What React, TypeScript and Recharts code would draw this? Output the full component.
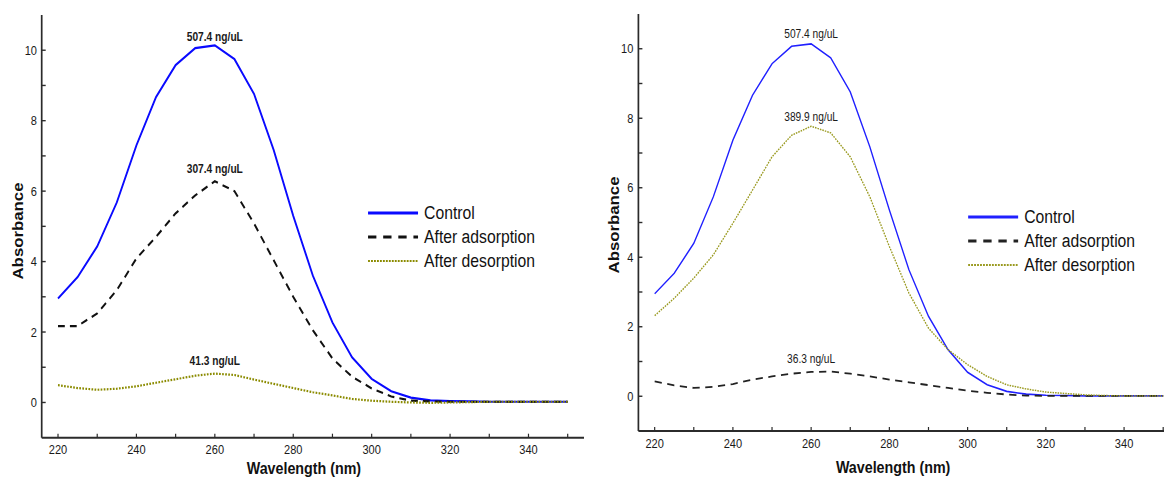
import React from 'react';
import { LineChart, Line, XAxis, YAxis, Legend, ReferenceDot } from 'recharts';

// ---------- data ----------
const wavelengths = [220, 225, 230, 235, 240, 245, 250, 255, 260, 265, 270, 275, 280, 285, 290, 295, 300, 305, 310, 315, 320, 325, 330, 335, 340, 345, 350];

const leftControl = [2.95, 3.56, 4.43, 5.68, 7.3, 8.67, 9.58, 10.06, 10.14, 9.75, 8.76, 7.17, 5.3, 3.6, 2.27, 1.28, 0.67, 0.32, 0.14, 0.06, 0.04, 0.03, 0.02, 0.02, 0.02, 0.02, 0.02];
const leftAdsorption = [2.17, 2.17, 2.53, 3.19, 4.09, 4.7, 5.37, 5.88, 6.28, 6.0, 5.08, 4.04, 3.0, 2.05, 1.25, 0.73, 0.4, 0.17, 0.05, 0.03, 0.02, 0.02, 0.02, 0.02, 0.02, 0.02, 0.02];
const leftDesorption = [0.49, 0.41, 0.36, 0.39, 0.46, 0.56, 0.66, 0.76, 0.82, 0.78, 0.65, 0.53, 0.41, 0.29, 0.2, 0.1, 0.05, 0.02, 0.0, -0.01, 0.0, 0.01, 0.02, 0.02, 0.02, 0.02, 0.02];

const rightControl = [2.95, 3.54, 4.4, 5.74, 7.37, 8.66, 9.57, 10.07, 10.14, 9.74, 8.76, 7.18, 5.36, 3.64, 2.3, 1.34, 0.69, 0.33, 0.14, 0.06, 0.03, 0.02, 0.01, 0.01, 0.01, 0.01, 0.01];
const rightAdsorption = [0.43, 0.31, 0.24, 0.27, 0.35, 0.48, 0.57, 0.65, 0.7, 0.71, 0.65, 0.57, 0.48, 0.4, 0.32, 0.24, 0.16, 0.1, 0.05, 0.02, 0.01, 0.01, 0.01, 0.01, 0.01, 0.01, 0.01];
const rightDesorption = [2.32, 2.82, 3.4, 4.07, 4.98, 5.93, 6.89, 7.51, 7.77, 7.58, 6.89, 5.74, 4.31, 2.97, 1.96, 1.34, 0.91, 0.57, 0.33, 0.21, 0.12, 0.08, 0.04, 0.02, 0.01, 0.01, 0.01];

const seriesNames = ['Control', 'After adsorption', 'After desorption'];

const xTicks = [220, 230, 240, 250, 260, 270, 280, 290, 300, 310, 320, 330, 340, 350];
const yTicks = [0, 1, 2, 3, 4, 5, 6, 7, 8, 9, 10];

const annoX = [260, 260, 260];
const leftAnnoText = ['507.4 ng/uL', '307.4 ng/uL', '41.3 ng/uL'];
const leftAnnoY = [10.37, 6.63, 1.19];
const rightAnnoText = ['507.4 ng/uL', '389.9 ng/uL', '36.3 ng/uL'];
const rightAnnoY = [10.42, 8.04, 1.08];

// ---------- layout / style ----------
const S = 0.85; // horizontal squeeze of the original figure
const FONT = '"Liberation Sans", Arial, Helvetica, sans-serif';
const X_DOMAIN: [number, number] = [215.84, 354.16];
const Y_DOMAIN: [number, number] = [-1, 11];

const leftRows = wavelengths.map((nm, i) => ({ nm, c: leftControl[i], a: leftAdsorption[i], d: leftDesorption[i] }));
const rightRows = wavelengths.map((nm, i) => ({ nm, c: rightControl[i], a: rightAdsorption[i], d: rightDesorption[i] }));

type SeriesStyle = { key: string; color: string; width: number; dash?: string; legendWidth: number; legendDash?: string };

const leftStyles: SeriesStyle[] = [
  { key: 'c', color: '#0a0aff', width: 2.2, legendWidth: 3 },
  { key: 'a', color: '#111111', width: 2.2, dash: '8 6', legendWidth: 3, legendDash: '9.8 8' },
  { key: 'd', color: '#8b8b00', width: 2.2, dash: '2 1.6', legendWidth: 2.2, legendDash: '2.2 1.3' },
];
const rightStyles: SeriesStyle[] = [
  { key: 'c', color: '#2020ff', width: 1.6, legendWidth: 3 },
  { key: 'a', color: '#222222', width: 1.8, dash: '8.5 6.5', legendWidth: 3, legendDash: '9.8 8' },
  { key: 'd', color: '#9a9a20', width: 1.5, dash: '1.8 1.2', legendWidth: 2.2, legendDash: '2.2 1.3' },
];

type PanelCfg = {
  width: number;
  marginTop: number;
  marginRight: number;
  yAxisWidth: number;
  xAxisHeight: number;
  xTickMargin: number;
  yTickMargin: number;
  xTitleDx: number;
  xTitleCy: number;
  yTitleX: number;
  yTitleCy: number;
  legendTop: number;
  legendLeft: number;
  annoBold: boolean;
};

const leftCfg: PanelCfg = {
  width: 700, marginTop: 15, marginRight: 12.94, yAxisWidth: 49.06, xAxisHeight: 39.3,
  xTickMargin: 10.65, yTickMargin: 10.3, xTitleDx: -10.5, xTitleCy: 468, yTitleX: 20.6, yTitleCy: 231,
  legendTop: 200.5, legendLeft: 432.9, annoBold: true,
};
const rightCfg: PanelCfg = {
  width: 700, marginTop: 14, marginRight: 18.4, yAxisWidth: 45.06, xAxisHeight: 46,
  xTickMargin: 12.05, yTickMargin: 10.6, xTitleDx: -18.6, xTitleCy: 467, yTitleX: 15.9, yTitleCy: 225,
  legendTop: 204.7, legendLeft: 432.9, annoBold: false,
};

function LegendBox({ styles }: { styles: SeriesStyle[] }) {
  return (
    <svg width={270} height={76} style={{ display: 'block', overflow: 'visible' }}>
      {seriesNames.map((name, i) => {
        const y = 12 + 24 * i;
        const st = styles[i];
        return (
          <g key={name}>
            <line x1={0} x2={58.8} y1={y} y2={y} stroke={st.color} strokeWidth={st.legendWidth} strokeDasharray={st.legendDash} />
            <text x={65.9} y={y} dominantBaseline="central" fontFamily={FONT} fontSize={18.5} fill="#111">
              {name}
            </text>
          </g>
        );
      })}
    </svg>
  );
}

function Panel({ data, cfg, styles, annoText, annoY }: { data: any[]; cfg: PanelCfg; styles: SeriesStyle[]; annoText: string[]; annoY: number[] }) {
  const xTitle = (p: any) => {
    const vb = (p && p.viewBox) || {};
    const cx = (vb.x ?? 0) + (vb.width ?? 0) / 2 + cfg.xTitleDx;
    return (
      <text x={cx} y={cfg.xTitleCy} textAnchor="middle" dominantBaseline="central" fontFamily={FONT} fontSize={16.8} fontWeight="bold" fill="#111">
        Wavelength (nm)
      </text>
    );
  };
  const yTitle = () => (
    <text
      x={cfg.yTitleX}
      y={cfg.yTitleCy}
      transform={`rotate(-90 ${cfg.yTitleX} ${cfg.yTitleCy})`}
      textAnchor="middle"
      dominantBaseline="central"
      fontFamily={FONT}
      fontSize={16.8}
      fontWeight="bold"
      fill="#111"
    >
      Absorbance
    </text>
  );
  const axisStroke = { stroke: '#2b2b2b', strokeWidth: 2 };
  const frameStroke = { stroke: '#4a4a4a', strokeWidth: 1.6 };
  const tickStyle = { fill: '#1a1a1a', fontSize: 13, fontFamily: FONT };
  return (
    <LineChart width={cfg.width} height={477} data={data} margin={{ top: cfg.marginTop, right: cfg.marginRight, bottom: 0, left: 0 }}>
      <XAxis
        dataKey="nm"
        type="number"
        domain={X_DOMAIN}
        allowDataOverflow
        ticks={xTicks}
        interval={0}
        tickFormatter={(v: number) => (v % 20 === 0 ? String(v) : '')}
        tickSize={-4}
        tickMargin={cfg.xTickMargin}
        height={cfg.xAxisHeight}
        axisLine={axisStroke}
        tickLine={{ stroke: '#2b2b2b', strokeWidth: 1.4 }}
        tick={tickStyle}
        label={xTitle}
      />
      <XAxis
        xAxisId="top"
        orientation="top"
        dataKey="nm"
        type="number"
        domain={X_DOMAIN}
        allowDataOverflow
        height={0}
        tick={false}
        tickLine={false}
        axisLine={frameStroke}
      />
      <YAxis
        type="number"
        domain={Y_DOMAIN}
        allowDataOverflow
        ticks={yTicks}
        interval={0}
        tickFormatter={(v: number) => (v % 2 === 0 ? String(v) : '')}
        tickSize={-4.7}
        tickMargin={cfg.yTickMargin}
        width={cfg.yAxisWidth}
        axisLine={axisStroke}
        tickLine={{ stroke: '#2b2b2b', strokeWidth: 1.4 }}
        tick={tickStyle}
        label={yTitle}
      />
      <YAxis
        yAxisId="r"
        orientation="right"
        type="number"
        domain={Y_DOMAIN}
        allowDataOverflow
        width={0}
        tick={false}
        tickLine={false}
        axisLine={frameStroke}
      />
      {styles.map((st, i) => (
        <Line
          key={st.key}
          dataKey={st.key}
          name={seriesNames[i]}
          type="linear"
          stroke={st.color}
          strokeWidth={st.width}
          strokeDasharray={st.dash}
          dot={false}
          activeDot={false}
          isAnimationActive={false}
        />
      ))}
      {annoText.map((t, i) => (
        <ReferenceDot
          key={t}
          x={annoX[i]}
          y={annoY[i]}
          r={0}
          fill="none"
          stroke="none"
          label={{ value: t, position: 'center', fontSize: 12, fontWeight: cfg.annoBold ? 'bold' : 'normal', fill: '#1a1a1a', fontFamily: FONT }}
        />
      ))}
      <Legend
        layout="vertical"
        align="center"
        verticalAlign="middle"
        wrapperStyle={{ left: cfg.legendLeft, top: cfg.legendTop, width: 270 }}
        content={() => <LegendBox styles={styles} />}
      />
    </LineChart>
  );
}

export default function App() {
  return (
    <div style={{ position: 'absolute', left: 0, top: 0, width: 1164, height: 477, overflow: 'hidden', background: '#fff' }}>
      <div style={{ position: 'absolute', left: 0, top: 0, width: 1164 / S, height: 477, transform: `scaleX(${S})`, transformOrigin: '0 0' }}>
        <div style={{ position: 'absolute', left: 0, top: 0 }}>
          <Panel data={leftRows} cfg={leftCfg} styles={leftStyles} annoText={leftAnnoText} annoY={leftAnnoY} />
        </div>
        <div style={{ position: 'absolute', left: 600 / S, top: 0 }}>
          <Panel data={rightRows} cfg={rightCfg} styles={rightStyles} annoText={rightAnnoText} annoY={rightAnnoY} />
        </div>
      </div>
    </div>
  );
}
